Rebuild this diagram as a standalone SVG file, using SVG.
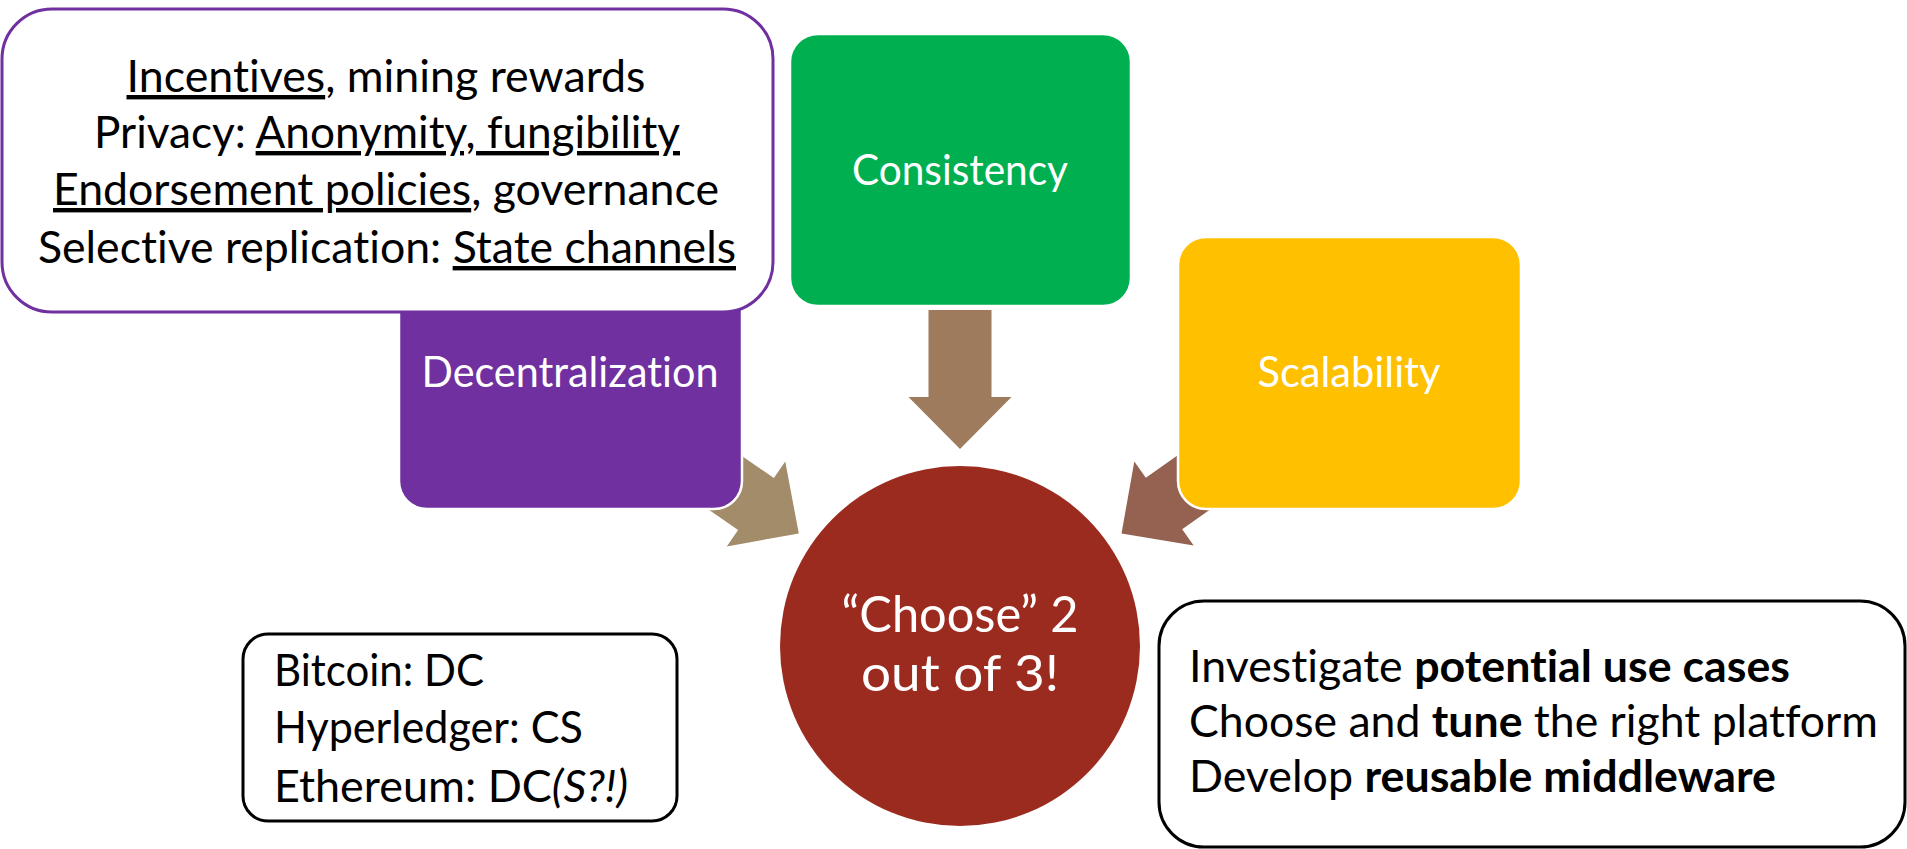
<svg xmlns="http://www.w3.org/2000/svg" width="1907" height="849" viewBox="0 0 1907 849">
<style>
  text { font-family: Lato, "Open Sans", "Liberation Sans", sans-serif; font-variant-ligatures: none; }
  .lbl { fill: #FFFFFF; font-size: 42px; text-anchor: middle; }
  .box { stroke: #FFFFFF; stroke-width: 2.5; }
  .note { fill: #000000; font-size: 44px; }
  .u { text-decoration: underline; }
  .b { font-weight: bold; }
  .i { font-style: italic; }
</style>
<defs>
  <path id="arr" d="M -120,-31.5 L 0,-31.5 L 0,-51.5 L 52,0 L 0,51.5 L 0,31.5 L -120,31.5 Z"/>
  <path id="arrDown" d="M -87,-31.5 L 0,-31.5 L 0,-51.5 L 52,0 L 0,51.5 L 0,31.5 L -87,31.5 Z"/>
</defs>
<rect width="1907" height="849" fill="#FFFFFF"/>
<g id="connectors">
  <use href="#arrDown" fill="#9E7B5C" transform="translate(960,397) rotate(90)"/>
  <use href="#arr" fill="#A38C69" transform="translate(756,504) rotate(34.6)"/>
  <use href="#arr" fill="#956251" transform="translate(1164,503.5) rotate(144.8)"/>
</g>
<g id="decentralization">
  <rect class="box" x="399" y="237" width="343" height="272" rx="28" fill="#7030A0"/>
  <text class="lbl" x="570" y="387" textLength="297" lengthAdjust="spacingAndGlyphs">Decentralization</text>
</g>
<g id="consistency">
  <rect class="box" x="790" y="34" width="341" height="272" rx="28" fill="#00B050"/>
  <text class="lbl" x="960" y="185" textLength="216" lengthAdjust="spacingAndGlyphs">Consistency</text>
</g>
<g id="scalability">
  <rect class="box" x="1178" y="237" width="343" height="272" rx="28" fill="#FFC000"/>
  <text class="lbl" x="1349" y="387" textLength="183" lengthAdjust="spacingAndGlyphs">Scalability</text>
</g>
<g id="choose">
  <circle cx="960" cy="646" r="180" fill="#9C2B1F"/>
  <text fill="#FFFFFF" font-size="51" text-anchor="middle" x="960" y="632" textLength="237" lengthAdjust="spacingAndGlyphs">“Choose” 2</text>
  <text fill="#FFFFFF" font-size="51" text-anchor="middle" x="960" y="691" textLength="198" lengthAdjust="spacingAndGlyphs">out of 3!</text>
</g>
<g id="callout">
  <rect x="2" y="9" width="771" height="303" rx="50" fill="#FFFFFF" stroke="#7030A0" stroke-width="3"/>
  <text class="note" text-anchor="middle" x="386" y="92" textLength="519" lengthAdjust="spacingAndGlyphs"><tspan class="u">Incentives</tspan>, mining rewards</text>
  <text class="note" text-anchor="middle" x="387" y="148" textLength="586" lengthAdjust="spacingAndGlyphs">Privacy: <tspan class="u">Anonymity, fungibility</tspan></text>
  <text class="note" text-anchor="middle" x="386" y="205" textLength="666" lengthAdjust="spacingAndGlyphs"><tspan class="u">Endorsement policies</tspan>, governance</text>
  <text class="note" text-anchor="middle" x="387" y="263" textLength="698" lengthAdjust="spacingAndGlyphs">Selective replication: <tspan class="u">State channels</tspan></text>
</g>
<g id="examples">
  <rect x="243" y="634" width="434" height="187" rx="25" fill="#FFFFFF" stroke="#000000" stroke-width="3"/>
  <text class="note" x="274" y="686" textLength="210" lengthAdjust="spacingAndGlyphs">Bitcoin: DC</text>
  <text class="note" x="274" y="743" textLength="309" lengthAdjust="spacingAndGlyphs">Hyperledger: CS</text>
  <text class="note" x="274" y="802" textLength="354" lengthAdjust="spacingAndGlyphs">Ethereum: DC<tspan class="i">(S?!)</tspan></text>
</g>
<g id="agenda">
  <rect x="1159" y="601" width="746" height="246" rx="45" fill="#FFFFFF" stroke="#000000" stroke-width="3"/>
  <text class="note" x="1189" y="682" textLength="601" lengthAdjust="spacingAndGlyphs">Investigate <tspan class="b">potential use cases</tspan></text>
  <text class="note" x="1189" y="737" textLength="689" lengthAdjust="spacingAndGlyphs">Choose and <tspan class="b">tune</tspan> the right platform</text>
  <text class="note" x="1189" y="792" textLength="587" lengthAdjust="spacingAndGlyphs">Develop <tspan class="b">reusable middleware</tspan></text>
</g>
</svg>
